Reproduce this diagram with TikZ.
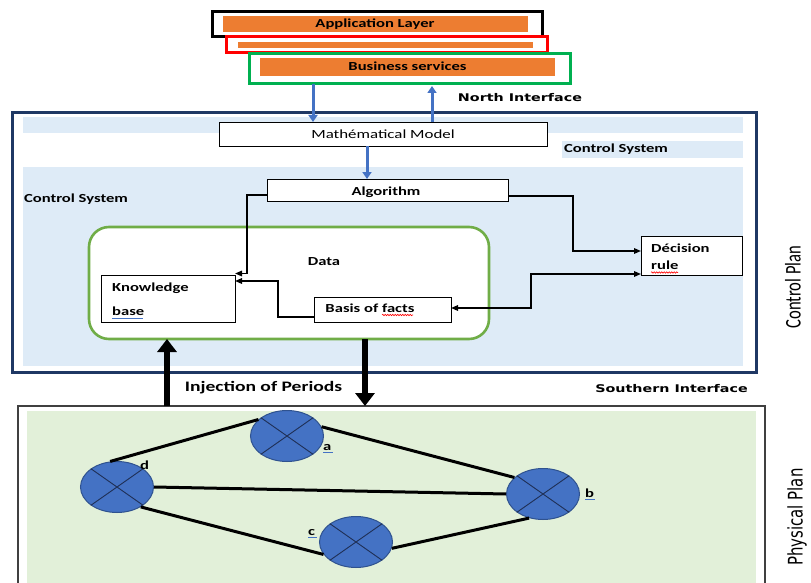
\documentclass[tikz,border=0pt]{standalone}
\usepackage{fontspec}
\usepackage{graphicx}
\usetikzlibrary{arrows.meta,shapes.geometric,decorations.pathmorphing}
\newfontfamily\fcal[FakeStretch=1.35]{Carlito}
\newfontfamily\fdej[FakeStretch=1.35]{DejaVu Sans}
\newfontfamily\fcalp{Carlito}
\newfontfamily\fdejp{DejaVu Sans}
\definecolor{cOrange}{HTML}{ED7D31}
\definecolor{cNavy}{HTML}{1F3864}
\definecolor{cLBlue}{HTML}{DEEBF7}
\definecolor{cLGreen}{HTML}{E2F0D9}
\definecolor{cGreen}{HTML}{70AD47}
\definecolor{cBGreen}{HTML}{00B050}
\definecolor{cBlue}{HTML}{4472C4}
\definecolor{cBlueDark}{HTML}{2F528F}
\definecolor{cXline}{HTML}{1F2F55}
\definecolor{cGray}{HTML}{404040}
\definecolor{cRed}{HTML}{FF0000}
\begin{document}
\begin{tikzpicture}[x=1pt,y=-1pt,
  box/.style={draw=black,line width=0.9pt,fill=white,inner sep=0pt,outer sep=0pt},
  frame/.style={inner sep=0pt,outer sep=0pt},
  orbar/.style={fill=cOrange,inner sep=0pt,outer sep=0pt},
  band/.style={fill=cLBlue,draw=none},
  lab/.style={inner sep=0pt,anchor=base,font=\fcal\bfseries\fontsize{12.3}{14}\selectfont},
  labw/.style={lab,anchor=base west},
  reg/.style={inner sep=0pt,anchor=base,font=\fcal\fontsize{12.5}{14}\selectfont},
  iface/.style={inner sep=0pt,anchor=base,font=\fdej\bfseries\fontsize{10.6}{12}\selectfont},
  blarrow/.style={draw=cBlue,line width=3pt,-{Triangle[width=9pt,length=7pt]}},
  thinarrow/.style={draw=black,line width=1.5pt,-{Triangle[width=5.5pt,length=7pt]}},
  bigarrow/.style={draw=black,line width=5.5pt,-{Triangle[width=19pt,length=13pt]}},
  netnode/.style={ellipse,fill=cBlue,draw=cBlueDark,line width=1pt,minimum width=73pt,minimum height=51pt,inner sep=0pt},
  xline/.style={draw=cXline,line width=0.9pt},
  edge/.style={draw=black,line width=3pt},
  squig/.style={draw=cRed,line width=0.6pt,decorate,decoration={snake,amplitude=0.7pt,segment length=2.5pt}},
  ul/.style={draw=cBlue,line width=0.8pt}
]
\useasboundingbox (0,0) rectangle (811,583);

% ---------- top stack ----------
\node[frame,draw=black,line width=3pt,minimum width=330pt,minimum height=25pt] (blackbox) at (377,24.5) {};
\node[orbar,minimum width=305pt,minimum height=16pt] (bar1) at (375.5,24) {};
\node[frame,draw=cRed,line width=3pt,fill=white,minimum width=321pt,minimum height=16pt] (redbox) at (386.5,45) {};
\node[orbar,minimum width=295pt,minimum height=6pt] (bar2) at (385.5,45) {};
\node[frame,draw=cBGreen,line width=3pt,fill=white,minimum width=321pt,minimum height=30pt] (greenbox) at (409.5,69) {};
\node[orbar,minimum width=295pt,minimum height=18pt] (bar3) at (407.5,67) {};
\node[lab] (tapp) at (375,28) {Application Layer};
\node[lab] (tbus) at (407.5,71) {Business services};
\node[iface] (tnorth) at (520,102) {North Interface};

% ---------- control plane ----------
\fill[cLBlue] (23,117) rectangle (743,133);
\fill[cLBlue] (562,141) rectangle (743,158);
\fill[cLBlue] (23,167) rectangle (743,366);
\node[frame,draw=cNavy,line width=3pt,minimum width=744pt,minimum height=259pt] (ctrl) at (384,242.5) {};

\node[box,minimum width=328pt,minimum height=24pt] (math) at (383,134) {};
\node[reg] (tmath) at (383,139) {Mathématical Model};
\node[lab] (tcs1) at (616,153) {Control System};
\node[lab] (tcs2) at (76,202) {Control System};

\node[box,minimum width=241pt,minimum height=22pt] (alg) at (387.5,190) {};
\node[lab] (talg) at (386,195) {Algorithm};

\node[frame,draw=cGreen,line width=2.6pt,rounded corners=20pt,fill=white,minimum width=400pt,minimum height=112pt] (data) at (289,283) {};
\node[lab] (tdata) at (324,265) {Data};

\node[box,minimum width=134pt,minimum height=47pt] (kb) at (168,298.5) {};
\node[labw] (tkb1) at (112,291) {Knowledge};
\node[labw] (tkb2) at (112,315) {base};
\draw[ul] (112,318.5) -- (143,318.5);

\node[box,minimum width=137pt,minimum height=25pt] (bf) at (382.5,309.5) {};
\node[lab] (tbf) at (370,312) {Basis of facts};
\draw[squig] (382,315) -- (413,315);

\node[box,minimum width=101pt,minimum height=39pt] (dr) at (691.5,255.5) {};
\node[labw] (tdr1) at (651,252) {Décision};
\node[labw] (tdr2) at (651,269) {rule};
\draw[squig] (651,272.5) -- (678,272.5);

% blue arrows
\draw[blarrow] ([xshift=-96.5pt]greenbox.south) -- ([xshift=-70pt]math.north);
\draw[blarrow] ([xshift=49pt]math.north) -- ([xshift=22.5pt,yshift=-2pt]greenbox.south);
\draw[blarrow] ([xshift=-16pt]math.south) -- ([xshift=-20.5pt]alg.north);

% connectors
\coordinate (k1) at (247,195);
\coordinate (k2) at (247,273.5);
\draw[thinarrow] ([yshift=-5pt]alg.west) -- (k1) -- (k2) -- ([yshift=1.5pt]kb.north east);
\coordinate (f1) at (278,317);
\coordinate (f2) at (278,281);
\draw[thinarrow] ([yshift=-7.5pt]bf.west) -- (f1) -- (f2) -- ([yshift=17.5pt]kb.east);
\coordinate (d1) at (573,196);
\coordinate (d2) at (573,251);
\draw[thinarrow] ([yshift=-6pt]alg.east) -- (d1) -- (d2) -- ([yshift=4.5pt]dr.west);
\coordinate (g1) at (531,308);
\coordinate (g2) at (531,274);
\draw[thinarrow,{Triangle[width=5.5pt,length=7pt]}-{Triangle[width=5.5pt,length=7pt]}] ([yshift=1.5pt]bf.east) -- (g1) -- (g2) -- ([yshift=-18.5pt]dr.west);

\node[inner sep=0pt] (tcp) at (793,287) {\scalebox{1.35}[1]{\rotatebox{90}{\fcalp\fontsize{16.6}{18}\selectfont Control Plan}}};

% ---------- interfaces ----------
\node[inner sep=0pt,anchor=base,font=\fcal\bfseries\fontsize{14.5}{16}\selectfont] (tinj) at (263.5,391) {Injection of Periods};
\node[iface] (tsouth) at (671.5,392) {Southern Interface};

% ---------- physical plane ----------
\fill[cLGreen] (27,411) rectangle (756,590);
\node[frame,draw=cGray,line width=1.2pt,minimum width=747pt,minimum height=184pt] (phys) at (391.5,498) {};

\draw[bigarrow] ([xshift=-224.5pt]phys.north) -- ([xshift=-122pt]data.south);
\draw[bigarrow] ([xshift=76pt]data.south) -- ([xshift=-26.5pt]phys.north);

\node[netnode] (na) at (287,436) {};
\node[netnode] (nd) at (117,487) {};
\node[netnode] (nb) at (543,494) {};
\node[netnode] (nc) at (356,542) {};
\foreach \n in {na,nb,nc,nd}{
  \draw[xline] (\n.35) -- (\n.215);
  \draw[xline] (\n.145) -- (\n.325);
}
\draw[edge] (nd.105) -- (na.150);
\draw[edge] (na.15) -- (nb.150);
\draw[edge] (nd.0) -- (nb.180);
\draw[edge] (nd.-40) -- (nc.201);
\draw[edge] (nc.-10) -- (nb.240);

\node[labw] (la) at (323,450) {a};
\node[labw] (ld) at (140,469) {d};
\node[labw] (lb) at (585,497) {b};
\node[labw] (lc) at (308,535) {c};
\draw[ul] (323,452.5) -- (333,452.5);
\draw[ul] (585,499.5) -- (595,499.5);
\draw[ul] (308,537.5) -- (317,537.5);

\node[inner sep=0pt] (tpp) at (797,517) {\scalebox{1.35}[1]{\rotatebox{90}{\fdejp\fontsize{14.9}{16}\selectfont Physical Plan}}};
\end{tikzpicture}
\end{document}
